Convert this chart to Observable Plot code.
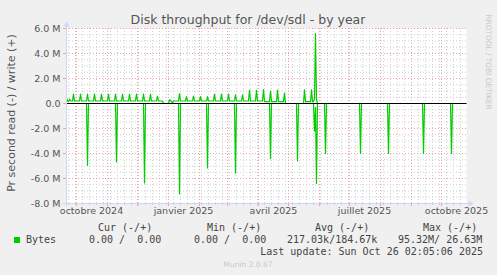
<!DOCTYPE html>
<html><head><meta charset="utf-8">
<script src="https://cdn.jsdelivr.net/npm/d3@7"></script>
<script src="https://cdn.jsdelivr.net/npm/@observablehq/plot@0.6"></script>
<style>
body{margin:0;background:#f0f0f0;}
#c{position:relative;width:497px;height:275px;background:#f0f0f0;overflow:hidden;font-family:"DejaVu Sans",sans-serif;}
#c svg{position:absolute;left:0;top:0;}
.t{position:absolute;white-space:pre;color:#555;}
.m{font-family:"DejaVu Sans Mono",monospace;font-size:10px;line-height:12px;color:#444;}
</style></head><body><div id="c"></div>
<script>
// ---- data (day offsets from 2024-09-21, values in M bytes/s) ----
const startISO = "2024-09-21T00:00:00Z";
const spanDays = 400;

const writeDays = [0,1,2,3,4,
  6,7,8, 13,14,15, 20,21,22, 27,28,29, 34,35,36, 41,42,43, 48,49,50,
  55,56,57, 62,63,64, 69,70,71, 76,77,78, 83,84,85, 90,91,92,
  96,97,102,103,104,105,106,107,
  112,113,114, 119,120,121, 126,127,128, 133,134,135, 140,141,142,
  147,148,149, 154,155,156, 161,162,163, 168,169,170, 175,176,177,
  182,183,184, 189,190,191, 196,197,198, 203,204,205, 210,211,212,
  217,218,219, 237,238,239, 244,245,246,247,248,249,250,251, 400];
const writeVals = [0.45,0.2,0.15,0.35,0.2,
  0.2,0.75,0.2, 0.2,0.75,0.2, 0.2,0.75,0.2, 0.2,0.75,0.2, 0.2,0.75,0.2, 0.2,0.75,0.2, 0.2,0.75,0.2,
  0.2,0.75,0.2, 0.2,0.75,0.2, 0.2,0.75,0.2, 0.2,0.75,0.2, 0.2,0.75,0.2, 0.2,0.6,0.2,
  0.2,0,0,0.3,0.25,0.15,0.05,0.2,
  0.2,0.8,0.2, 0.2,0.55,0.2, 0.2,0.6,0.2, 0.2,0.55,0.2, 0.2,0.55,0.2,
  0.2,0.75,0.2, 0.2,0.75,0.2, 0.2,0.75,0.2, 0.2,0.7,0.2, 0.2,0.7,0.2,
  0.2,1.07,0.2, 0.2,1.05,0.2, 0.2,1.12,0.15, 0.15,1.0,0.15, 0.15,1.07,0.15,
  0.15,0.83,0, 0,1.1,0.15, 0.15,1.1,0.15,0.15,0.4,5.6,0.3,0, 0];

const readDays = [0, 20,21,22, 49,50,51, 77,78,79, 112,113,114, 140,141,142,
  168,169,170, 203,204,205, 230,231,232, 247,248,249,250,251,
  258,259,260, 293,294,295, 321,322,323, 356,357,358, 384,385,386, 400];
const readVals = [0, 0,-4.95,0, 0,-4.67,0, 0,-6.35,0, 0,-7.23,0, 0,-5.15,0,
  0,-5.55,0, 0,-4.4,0, 0,-4.6,0, 0,-2.2,-0.3,-6.4,0,
  0,-4.0,0, 0,-4.0,0, 0,-4.0,0, 0,-4.0,0, 0,-4.0,0, 0];

const yTickValues = [-8,-6,-4,-2,0,2,4,6];
const yTickLabels = ["-8.0 M","-6.0 M","-4.0 M","-2.0 M","0.0","2.0 M","4.0 M","6.0 M"];
const xTickDates = ["2024-10-16","2025-01-16","2025-04-16","2025-07-16","2025-10-16"];
const xTickLabels = ["octobre 2024","janvier 2025","avril 2025","juillet 2025","octobre 2025"];

const titleText = "Disk throughput for /dev/sdl - by year";
const yLabelText = "Pr second read (-) / write (+)";
const seriesName = "Bytes";
const legendHeads = ["Cur (-/+)","Min (-/+)","Avg (-/+)","Max (-/+)"];
const legendValues = ["0.00 /  0.00","0.00 /  0.00","217.03k/184.67k","95.32M/ 26.63M"];
const lastUpdate = "Last update: Sun Oct 26 02:05:06 2025";
const footerText = "Munin 2.0.67";
const watermarkText = "RRDTOOL / TOBI OETIKER";

// ---- build ----
const START = new Date(startISO).getTime();
const DAY = 864e5;
const END = START + spanDays * DAY;
const toDate = d => new Date(START + d * DAY);
const write = writeDays.map((d, i) => ({date: toDate(d), v: writeVals[i]}));
const read = readDays.map((d, i) => ({date: toDate(d), v: readVals[i]}));
const weeks = d3.utcMonday.range(new Date(START), new Date(END));
const months = d3.utcMonth.range(new Date(START), new Date(END));
const minorY = d3.range(-8, 6.001, 0.5).filter(v => Math.abs(v % 2) > 1e-9);
const xTicks = xTickDates.map(s => new Date(s + "T00:00:00Z"));

const GREEN = "#00cc00", MGRID = "#eba3a3", GRID = "#d0d0d0", AXIS = "#CFD6F8";

const plot = Plot.plot({
  width: 497, height: 220,
  marginLeft: 66, marginRight: 31, marginTop: 28, marginBottom: 17,
  style: {background: "transparent", fontFamily: "DejaVu Sans", fontSize: "9.5px", color: "#555", overflow: "visible"},
  x: {type: "utc", domain: [new Date(START), new Date(END)]},
  y: {domain: [-8, 6]},
  marks: [
    Plot.frame({fill: "white"}),
    Plot.ruleY(minorY, {stroke: GRID, strokeDasharray: "1,2"}),
    Plot.ruleX(weeks, {stroke: GRID, strokeDasharray: "1,2"}),
    Plot.ruleY(yTickValues, {stroke: MGRID, strokeDasharray: "1,2"}),
    Plot.ruleX(months, {stroke: MGRID, strokeDasharray: "1,2"}),
    Plot.line(read, {x: "date", y: "v", stroke: GREEN, strokeWidth: 1.2}),
    Plot.line(write, {x: "date", y: "v", stroke: GREEN, strokeWidth: 1.2}),
    Plot.ruleY([0], {stroke: "#000"}),
    Plot.axisY({ticks: yTickValues, tickFormat: v => yTickLabels[yTickValues.indexOf(v)], tickSize: 3, tickPadding: 3, stroke: MGRID, label: null}),
    Plot.axisX({ticks: weeks, tickSize: 2, tickFormat: () => "", stroke: GRID, label: null}),
    Plot.axisX({ticks: months, tickSize: 3, tickFormat: () => "", stroke: MGRID, label: null}),
    Plot.axisX({ticks: xTicks, tickSize: 0, tickPadding: 4, tickFormat: d => xTickLabels[xTicks.findIndex(t => +t === +d)], label: null})
  ]
});

// axis lines with arrows (rrdtool style), from the scales
const sx = plot.scale("x"), sy = plot.scale("y");
const xL = Math.round(sx.range[0]) + 0.5, xR = Math.round(sx.range[1]) + 0.5;
const yB = Math.round(sy.range[0]) + 0.5, yT = Math.round(sy.range[1]) + 0.5;
const g = d3.select(plot).append("g");
g.append("line").attr("x1", xL - 3).attr("x2", xR + 4).attr("y1", yB).attr("y2", yB).attr("stroke", AXIS);
g.append("line").attr("x1", xL).attr("x2", xL).attr("y1", yB + 3).attr("y2", yT - 4).attr("stroke", AXIS);
g.append("path").attr("d", `M${xR+7},${yB} L${xR+2},${yB-3} L${xR+2},${yB+3} Z`).attr("fill", AXIS);
g.append("path").attr("d", `M${xL},${yT-7} L${xL-3},${yT-2} L${xL+3},${yT-2} Z`).attr("fill", AXIS);

const c = document.getElementById("c");
c.appendChild(plot);

function put(txt, x, y, css, anchor, extra) {
  const d = document.createElement("div");
  d.className = "t" + (css ? " " + css : "");
  d.textContent = txt;
  d.style.left = x + "px";
  d.style.top = y + "px";
  const tx = anchor === "middle" ? "-50%" : anchor === "end" ? "-100%" : "0";
  d.style.transform = `translate(${tx},-50%)` + (extra || "");
  c.appendChild(d);
  return d;
}
const ttl = put(titleText, 248, 19, "", "middle");
ttl.style.fontSize = "12.5px"; ttl.style.lineHeight = "15px";
const yl = put(yLabelText, 11, 113, "", "middle", " rotate(-90deg)");
yl.style.fontSize = "11px"; yl.style.lineHeight = "13px";
const wm = put(watermarkText, 488, 62, "", "middle", " rotate(90deg)");
wm.style.fontSize = "7.4px"; wm.style.lineHeight = "9px"; wm.style.color = "#c8c8c8";

const headX = [98, 207, 315, 423];
legendHeads.forEach((h, i) => put(h, headX[i], 228, "m", "start"));
const sq = document.createElement("div");
sq.style.cssText = `position:absolute;left:14px;top:237px;width:6px;height:6px;background:${GREEN};`;
c.appendChild(sq);
put(seriesName, 26, 240, "m", "start");
const valX = [89, 194, 287, 398];
legendValues.forEach((v, i) => put(v, valX[i], 240, "m", "start"));
put(lastUpdate, 483, 252, "m", "end");
const ft = put(footerText, 248, 264, "", "middle");
ft.style.fontSize = "7.5px"; ft.style.lineHeight = "9px"; ft.style.color = "#c8c8c8";
</script></body></html>
